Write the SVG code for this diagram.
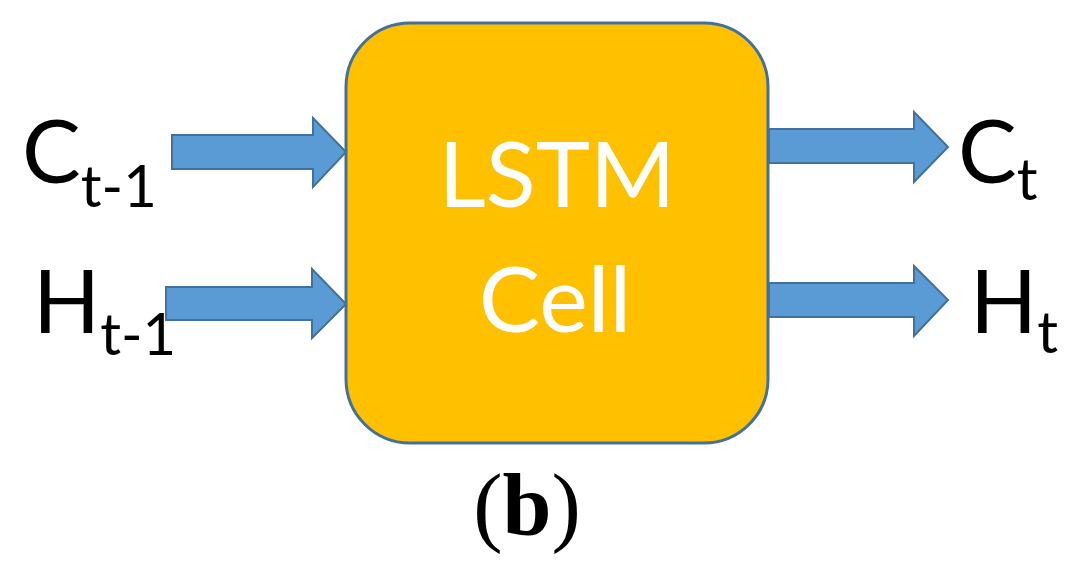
<svg xmlns="http://www.w3.org/2000/svg" width="1088" height="583" viewBox="0 0 1088 583">
<style>
.lbl{font-family:Lato,"Liberation Sans",sans-serif;fill:#000;}
.big{font-size:88px;}
.sub{font-size:58px;}
.cell{font-family:Lato,"Liberation Sans",sans-serif;fill:#fff;font-size:92px;text-anchor:middle;}
.arr{fill:#5B9BD5;stroke:#41719C;stroke-width:2;}
</style>
<rect width="1088" height="583" fill="#fff"/>
<g id="connectors">
<path class="arr" d="M172,135 H313 V118 L346,152 L313,187 V169 H172 Z"/>
<path class="arr" d="M166,287 H312 V269 L346,304 L312,338 V320 H166 Z"/>
<path class="arr" d="M769,129 H914 V112 L948,147 L914,182 V163 H769 Z"/>
<path class="arr" d="M769,283 H914 V266 L948,300 L914,336 V317 H769 Z"/>
</g>
<g id="lstm">
<rect x="346" y="23" width="422" height="420" rx="64" ry="64" fill="#FFC000" stroke="#41719C" stroke-width="3"/>
<text class="cell" x="557" y="207">LSTM</text>
<text class="cell" x="555" y="332">Cell</text>
</g>
<g id="c_prev"><text class="lbl" x="22" y="183"><tspan class="big">C</tspan><tspan class="sub" y="207">t-1</tspan></text></g>
<g id="h_prev"><text class="lbl" x="33" y="333"><tspan class="big">H</tspan><tspan class="sub" y="355">t-1</tspan></text></g>
<g id="c_t"><text class="lbl" x="958" y="183"><tspan class="big">C</tspan><tspan class="sub" y="200">t</tspan></text></g>
<g id="h_t"><text class="lbl" x="970" y="333"><tspan class="big">H</tspan><tspan class="sub" y="353">t</tspan></text></g>
<g id="caption"><text x="527" y="535" font-family="'Liberation Serif',serif" font-size="88" text-anchor="middle"><tspan>(</tspan><tspan font-weight="bold">b</tspan><tspan>)</tspan></text></g>
</svg>
